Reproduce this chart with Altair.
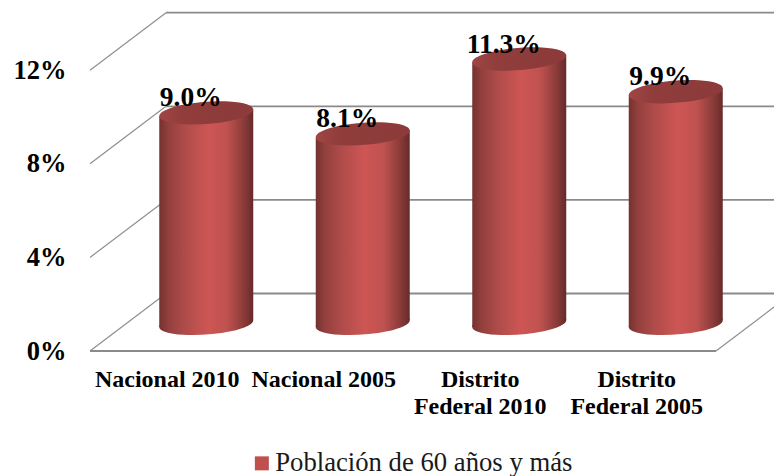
import altair as alt
import pandas as pd

# ---- chart values
categories = ["Nacional 2010", "Nacional 2005", "Distrito\nFederal 2010", "Distrito\nFederal 2005"]
values = [9.0, 8.1, 11.3, 9.9]
value_labels = ["9.0%", "8.1%", "11.3%", "9.9%"]
y_ticks = [0, 4, 8, 12]
series_name = "Población de 60 años y más"

# ---- oblique projection of the 3D box, in data units
W, H = 766, 468
PX_SLOT = 156.5      # px per category
PX_PCT = 23.4        # px per percentage point
X0, Y0 = 82, 343     # position of the front-left floor corner inside the plot
DEPTH_X = 76 / PX_SLOT
DEPTH_Y = 57.5 / PX_PCT
TILT = 3.5 / PX_PCT
HALF = 47 / PX_SLOT

x_scale = alt.Scale(domain=[-X0 / PX_SLOT, (W - X0) / PX_SLOT], nice=False, zero=False)
y_scale = alt.Scale(domain=[(Y0 - H) / PX_PCT, Y0 / PX_PCT], nice=False, zero=False)
n = len(categories)

# frame lines
frame = []
for t in y_ticks:
    frame.append(dict(x=0, y=t, x2=DEPTH_X, y2=t + DEPTH_Y, w="d"))
    frame.append(dict(x=DEPTH_X, y=t + DEPTH_Y, x2=n + DEPTH_X, y2=t + DEPTH_Y, w="b"))
frame.append(dict(x=0, y=0, x2=n, y2=0, w="b"))
frame.append(dict(x=n, y=0, x2=n + DEPTH_X, y2=DEPTH_Y, w="d"))
frame_df = pd.DataFrame(frame)


def rules(kind, width, color):
    return alt.Chart(frame_df[frame_df.w == kind]).mark_rule(
        strokeWidth=width, color=color, clip=True
    ).encode(
        x=alt.X("x:Q", scale=x_scale, axis=None),
        x2="x2:Q",
        y=alt.Y("y:Q", scale=y_scale, axis=alt.Axis(
            values=y_ticks, labelExpr="datum.value + '%'", title=None, domain=False,
            ticks=False, grid=False, offset=-58, labelPadding=0,
            labelFont="Liberation Serif", labelFontWeight="bold", labelFontSize=26.5,
            labelColor="#000000")),
        y2="y2:Q",
    )


frame_layers = [rules("d", 1.2, "#8f8f8f"), rules("b", 1.8, "#8a8a8a")]

centers = [i + 0.5 + DEPTH_X / 2 for i in range(n)]
base_y = DEPTH_Y / 2 - 0.05

cyl = pd.DataFrame({"c": centers, "v": values, "label": value_labels, "cat": categories,
                    "slot": [i + 0.5 for i in range(n)]})
cyl["top"] = cyl.v + base_y
cyl["base"] = base_y

body_rows = []
for i, (c, v) in enumerate(zip(centers, values)):
    body_rows.append(dict(i=i, x=c - HALF, y=v + base_y - TILT, y2=base_y - TILT))
    body_rows.append(dict(i=i, x=c + HALF, y=v + base_y + TILT, y2=base_y + TILT))
body = pd.DataFrame(body_rows)

body_grad = alt.LinearGradient(
    gradient="linear", x1=0, x2=1, y1=0, y2=0,
    stops=[
        alt.GradientStop(offset=0, color="#74322f"),
        alt.GradientStop(offset=0.1, color="#93403e"),
        alt.GradientStop(offset=0.28, color="#b04c4a"),
        alt.GradientStop(offset=0.52, color="#cd5654"),
        alt.GradientStop(offset=0.72, color="#bf5250"),
        alt.GradientStop(offset=0.9, color="#8a3b39"),
        alt.GradientStop(offset=1, color="#652b2a"),
    ],
)
top_grad = alt.LinearGradient(
    gradient="linear", x1=0, x2=1, y1=0, y2=0,
    stops=[
        alt.GradientStop(offset=0, color="#a04644"),
        alt.GradientStop(offset=0.25, color="#903d3c"),
        alt.GradientStop(offset=1, color="#8c3b3a"),
    ],
)
ELLIPSE = "M-1,0.075A1.003,0.233,-4.3,1,1,1,-0.075A1.003,0.233,-4.3,1,1,-1,0.075Z"
SIZE = 94 ** 2

bottoms = alt.Chart(cyl).mark_point(
    shape=ELLIPSE, size=SIZE, filled=True, fill=body_grad, opacity=1, strokeWidth=0
).encode(x=alt.X("c:Q", scale=x_scale), y=alt.Y("base:Q", scale=y_scale))

bodies = alt.Chart(body).mark_area(fill=body_grad, opacity=1).encode(
    x=alt.X("x:Q", scale=x_scale),
    y=alt.Y("y:Q", scale=y_scale),
    y2="y2:Q",
    detail="i:N",
)

tops = alt.Chart(cyl).mark_point(
    shape=ELLIPSE, size=SIZE, filled=True, fill=top_grad, opacity=1, strokeWidth=0
).encode(x=alt.X("c:Q", scale=x_scale), y=alt.Y("top:Q", scale=y_scale))

value_text = alt.Chart(cyl).mark_text(
    font="Liberation Serif", fontWeight="bold", fontSize=27.5, color="#000000",
    dx=-15.5, dy=-6.5, baseline="alphabetic", align="center",
).encode(x=alt.X("c:Q", scale=x_scale), y=alt.Y("top:Q", scale=y_scale), text="label:N")

cat_text = alt.Chart(cyl).mark_text(
    font="Liberation Serif", fontWeight="bold", fontSize=24, color="#000000",
    baseline="alphabetic", align="center", lineBreak="\n", lineHeight=27, dx=-1,
).encode(
    x=alt.X("slot:Q", scale=x_scale),
    y=alt.Y("yl:Q", scale=y_scale),
    text="cat:N",
).transform_calculate(yl="-1.54")

legend_layer = alt.Chart(pd.DataFrame({"s": [series_name]})).mark_square(size=0).encode(
    color=alt.Color("s:N", scale=alt.Scale(domain=[series_name], range=["#c0504d"]),
                    legend=alt.Legend(
                        orient="none", legendX=240.5, legendY=442, title=None,
                        symbolType="square", symbolSize=196, symbolStrokeWidth=0,
                        symbolOpacity=1, labelFont="Liberation Serif", labelFontSize=26.7,
                        labelColor="#1a1a1a", labelLimit=500, labelOffset=0)),
)

chart = alt.layer(
    *frame_layers, bottoms, bodies, tops, value_text, cat_text, legend_layer
).resolve_scale(x="shared", y="shared").properties(
    width=W, height=H, padding=0, background="#ffffff",
    autosize=alt.AutoSizeParams(type="none"),
).configure_view(strokeWidth=0, stroke=None)

chart.save("out.html", embed_options={"renderer": "svg", "actions": False})
